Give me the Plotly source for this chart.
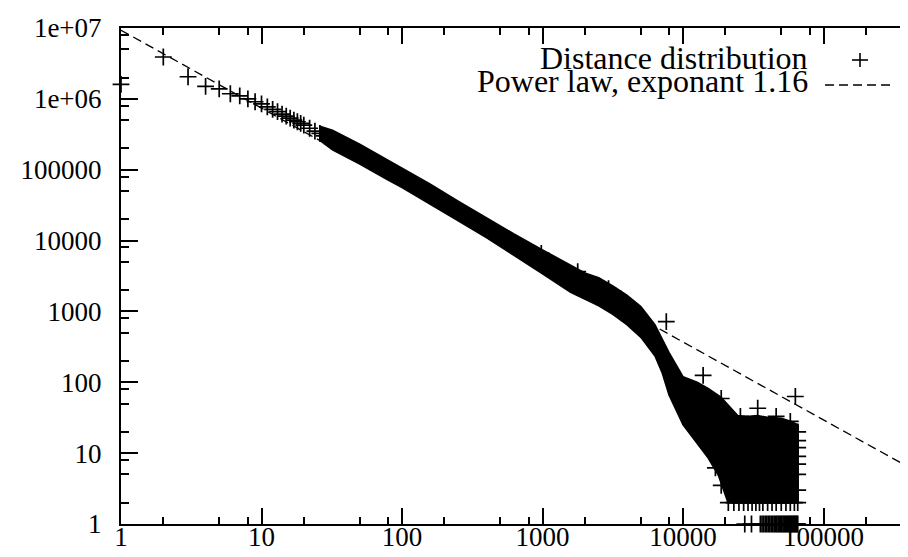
import plotly.graph_objects as go

# ---- Distance distribution: individually visible points (distance, count) ----
DIST_X = [1, 2, 3, 4, 5, 6, 7, 8, 9, 10, 11, 12, 13, 14, 15, 16, 17, 18, 19, 20,
          22, 24, 26, 28, 30, 33, 36, 40, 45, 50, 56, 63, 70, 80, 90, 100, 110]
DIST_Y = [1.6e6, 3.9e6, 2.05e6, 1.5e6, 1.38e6, 1.18e6, 1.1e6, 1.0e6, 9.1e5, 8.5e5,
          7.7e5, 7.1e5, 6.6e5, 6.1e5, 5.7e5, 5.35e5, 5.0e5, 4.75e5, 4.5e5, 4.25e5,
          3.85e5, 3.5e5, 3.25e5, 3.0e5, 2.8e5, 2.55e5, 2.35e5, 2.1e5, 1.85e5, 1.65e5,
          1.48e5, 1.3e5, 1.15e5, 1.0e5, 8.8e4, 7.8e4, 6.9e4]

# isolated outliers
OUT_X = [980, 1780, 2950, 3600, 7600, 13900, 17000, 18700, 18700, 25600, 34000, 46000, 58000, 63000]
OUT_Y = [6600, 3650, 2100, 1500, 720, 125, 6.2, 3.5, 59, 33, 43, 33, 28, 63]

# counts of 1 and 2 at large distances
ONE_X = [27500, 30700, 35500, 36500, 37500, 38500, 39500, 40500, 41500, 42500, 43500,
         44500, 45500, 46500, 47500, 48500, 49500, 50500, 51500, 52500, 53500, 54500,
         55500, 56500, 57500, 58500, 59500, 60500, 61500, 62500, 63500, 64500, 65500]
ONE_Y = [1] * len(ONE_X)
TWO_X = [21000, 23000, 25000, 27000, 29000, 31000, 33000, 35000, 37000, 40000,
         43000, 46000, 50000, 54000, 58000, 62000, 65500]
TWO_Y = [2] * len(TWO_X)
EDGE_X = [65500, 65500, 65500, 65500, 65500, 65500, 65500]
EDGE_Y = [3, 5, 7, 9, 12, 15, 20]

# envelope of the dense cloud of points (upper and lower edge)
TOP_X = [26, 32, 50, 79, 100, 158, 251, 398, 631, 1000, 1585, 2000, 2512, 3162, 3981,
         5012, 6310, 7080, 7943, 10000, 12600, 15100, 18600, 24500, 28200, 33900, 39800,
         50100, 58900, 66000]
TOP_Y = [4.1e5, 3.6e5, 2.3e5, 1.38e5, 1.07e5, 6.3e4, 3.6e4, 2.1e4, 1.23e4, 7400, 4500,
         3500, 3000, 2300, 1700, 1170, 650, 420, 265, 120, 100, 82, 62, 34, 33, 34, 32,
         31, 28, 25]
BOT_X = [26, 32, 50, 79, 100, 158, 251, 398, 631, 1000, 1585, 2000, 2512, 3162, 3981,
         5012, 6310, 7080, 7943, 10000, 11000, 15100, 17800, 20000, 20900, 66000]
BOT_Y = [2.6e5, 1.9e5, 1.2e5, 7.2e4, 5.6e4, 3.3e4, 1.9e4, 1.1e4, 6200, 3400, 1860,
         1480, 1200, 910, 650, 430, 235, 138, 66, 25, 20, 8.5, 4.9, 2.6, 2.0, 2.0]

# power law fit (as drawn)
POWER_COEF = 9.3e6
POWER_EXP = 1.10
POWER_X = [1, 455000]
POWER_Y = [POWER_COEF * x ** (-POWER_EXP) for x in POWER_X]

# axes ticks
X_TICKS = [1, 10, 100, 1000, 10000, 100000]
X_LABELS = ["1", "10", "100", "1000", "10000", "100000"]
X_MINOR = [m * 10 ** k for k in range(0, 6) for m in (2, 5, 8)]
Y_TICKS = [1, 10, 100, 1000, 10000, 100000, 1e6, 1e7]
Y_LABELS = ["1", "10", "100", "1000", "10000", "100000", "1e+06", "1e+07"]
Y_MINOR = [m * 10 ** k for k in range(0, 7) for m in (2, 5, 8)]

FONT = "Liberation Serif, DejaVu Serif, Liberation Sans, serif"
MARK = dict(symbol="cross-thin", size=12, line=dict(width=1.7, color="black"), color="black")

fig = go.Figure()
fig.add_trace(go.Scatter(x=TOP_X + BOT_X[::-1], y=TOP_Y + BOT_Y[::-1], mode="lines",
                         fill="toself", fillcolor="black", line=dict(color="black", width=1.5),
                         hoverinfo="skip", showlegend=False))
for xs, ys in [(DIST_X, DIST_Y), (OUT_X, OUT_Y), (ONE_X, ONE_Y), (TWO_X, TWO_Y), (EDGE_X, EDGE_Y)]:
    fig.add_trace(go.Scatter(x=xs, y=ys, mode="markers", marker=MARK, cliponaxis=False,
                             showlegend=False))
fig.add_trace(go.Scatter(x=POWER_X, y=POWER_Y, mode="lines",
                         line=dict(color="black", width=1.3, dash="9px,5px"), showlegend=False))
# invisible trace for the right axis
fig.add_trace(go.Scatter(x=[1], y=[1], yaxis="y2", mode="markers", marker=dict(opacity=0),
                         showlegend=False, hoverinfo="skip"))

axis_common = dict(type="log", ticks="inside", tickcolor="black", tickwidth=2,
                   showgrid=False, zeroline=False,
                   tickfont=dict(family=FONT, size=27, color="black"))

fig.update_layout(
    width=908, height=557,
    margin=dict(l=113, r=0, t=20, b=41),
    paper_bgcolor="white", plot_bgcolor="white",
    showlegend=False,
    font=dict(family=FONT, color="black"),
    xaxis=dict(**axis_common, range=[0, 5.658], tickmode="array", tickvals=X_TICKS,
               ticktext=X_LABELS, ticklen=16, showline=True, linewidth=2, linecolor="black",
               mirror="ticks", ticklabelstandoff=-12,
               minor=dict(tickmode="array", tickvals=X_MINOR, ticks="inside", ticklen=7,
                          tickwidth=2, tickcolor="black")),
    yaxis=dict(**axis_common, range=[0, 7], tickmode="array", tickvals=Y_TICKS,
               ticktext=Y_LABELS, ticklen=17, showline=True, linewidth=2, linecolor="black",
               ticklabelstandoff=12,
               minor=dict(tickmode="array", tickvals=Y_MINOR, ticks="inside", ticklen=8,
                          tickwidth=2, tickcolor="black")),
    yaxis2=dict(type="log", overlaying="y", side="right", range=[0, 7], ticks="inside",
                tickmode="array", tickvals=Y_TICKS, ticklen=11, tickwidth=2, tickcolor="black",
                showticklabels=False, showline=False, showgrid=False, zeroline=False,
                minor=dict(tickmode="array", tickvals=Y_MINOR, ticks="inside", ticklen=3,
                           tickwidth=2, tickcolor="black")),
)

# gnuplot-style key (text right-aligned, sample to the right)
PLOT_W, PLOT_H = 795, 496
def px(xp):
    return (xp - 113) / PLOT_W
def py(yp):
    return 1 - (yp - 20) / PLOT_H

fig.add_annotation(x=px(802), y=py(50), xref="paper", yref="paper", text="Distance distribution",
                   showarrow=False, xanchor="right", yanchor="middle",
                   font=dict(family=FONT, size=32, color="black"))
fig.add_annotation(x=px(802), y=py(73), xref="paper", yref="paper", text="Power law, exponant 1.16",
                   showarrow=False, xanchor="right", yanchor="middle",
                   font=dict(family=FONT, size=32, color="black"))
fig.add_shape(type="line", xref="paper", yref="paper", x0=px(844), x1=px(860), y0=py(52), y1=py(52),
              line=dict(color="black", width=1.6))
fig.add_shape(type="line", xref="paper", yref="paper", x0=px(852), x1=px(852), y0=py(45), y1=py(59),
              line=dict(color="black", width=1.6))
fig.add_shape(type="line", xref="paper", yref="paper", x0=px(817), x1=px(887), y0=py(77), y1=py(77),
              line=dict(color="black", width=1.3, dash="9px,5px"))

fig.write_html("out.html")
